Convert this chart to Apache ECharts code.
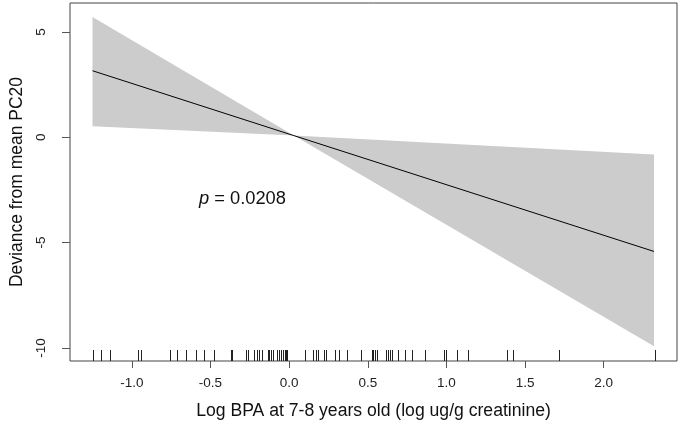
<!DOCTYPE html>
<html><head><meta charset="utf-8">
<script src="https://cdn.jsdelivr.net/npm/echarts@6/dist/echarts.min.js"></script>
<style>html,body{margin:0;padding:0;background:#fff}#c{width:682px;height:428px}</style>
</head><body><div id="c"></div>
<script>
// Fitted line
const fitX = [-1.25, 0.03, 2.32];
const fitY = [3.16, 0.08, -5.42];
// Confidence band (upper / lower) at the same x values
const bandX = [-1.25, 0.03, 2.32];
const bandUpper = [5.71, 0.08, -0.82];
const bandLower = [0.53, 0.08, -9.92];
// Rug: observed Log BPA values
const rugX = [-1.246,-1.197,-1.139,-0.962,-0.939,-0.760,-0.710,-0.655,-0.592,-0.542,-0.479,
  -0.372,-0.363,-0.277,-0.261,-0.221,-0.206,-0.189,-0.174,-0.137,-0.126,-0.116,-0.105,
  -0.080,-0.067,-0.053,-0.042,-0.028,-0.021,-0.015,0.098,0.149,0.168,0.183,0.224,0.235,
  0.294,0.315,0.367,0.460,0.525,0.536,0.546,0.556,0.613,0.626,0.643,0.655,0.693,0.735,
  0.783,0.865,0.983,0.999,1.065,1.140,1.388,1.426,1.714,2.325];
// Axis ticks
const xTicks = [-1.0, -0.5, 0.0, 0.5, 1.0, 1.5, 2.0];
const yTicks = [-10, -5, 0, 5];
const xRange = [-1.393, 2.466];
const yRange = [-10.62, 6.375];

const chart = echarts.init(document.getElementById('c'), null, {renderer: 'canvas'});
const font = '"Liberation Sans", Arial, sans-serif';
const bandPoly = bandX.map((x, i) => [x, bandUpper[i]]).concat(
  bandX.map((x, i) => [x, bandLower[i]]).reverse());

chart.setOption({
  animation: false,
  grid: {left: 67, right: 5, top: 3, bottom: 67, show: true, borderColor: '#444', borderWidth: 1, backgroundColor: 'transparent'},
  xAxis: {
    type: 'value', min: xRange[0], max: xRange[1],
    splitLine: {show: false}, axisLine: {show: false, onZero: false},
    axisTick: {show: true, length: 7, lineStyle: {color: '#555'}, customValues: xTicks},
    axisLabel: {color: '#222', fontSize: 13.5, fontFamily: font, margin: 15, customValues: xTicks,
      formatter: v => v.toFixed(1)},
    name: 'Log BPA at 7-8 years old (log ug/g creatinine)', nameLocation: 'middle', nameGap: 41,
    nameTextStyle: {color: '#111', fontSize: 17.6, fontFamily: font}
  },
  yAxis: {
    type: 'value', min: yRange[0], max: yRange[1],
    splitLine: {show: false}, axisLine: {show: false, onZero: false},
    axisTick: {show: true, length: 8, lineStyle: {color: '#555'}, customValues: yTicks},
    axisLabel: {color: '#222', fontSize: 13.5, fontFamily: font, rotate: 90, margin: 29, customValues: yTicks,
      verticalAlign: 'middle', align: 'center'},
    name: 'Deviance from mean PC20', nameLocation: 'middle', nameGap: 44,
    nameTextStyle: {color: '#111', fontSize: 17.5, fontFamily: font}
  },
  series: [
    {
      type: 'custom', silent: true, z: 1,
      data: [0],
      renderItem: (params, api) => ({
        type: 'polygon',
        shape: {points: bandPoly.map(p => api.coord(p))},
        style: {fill: '#cccccc', stroke: null}
      })
    },
    {
      type: 'line', data: fitX.map((x, i) => [x, fitY[i]]), symbol: 'none', z: 3,
      lineStyle: {color: '#000', width: 1}
    },
    {
      type: 'custom', silent: true, z: 4,
      data: rugX.map(x => [x]),
      renderItem: (params, api) => {
        const p = api.coord([api.value(0), yRange[0]]);
        const x = Math.round(p[0]) + 0.5;
        return {type: 'line', shape: {x1: x, y1: p[1], x2: x, y2: p[1] - 11},
          style: {stroke: '#222', lineWidth: 1}};
      }
    }
  ],
  graphic: [{
    type: 'text', left: 199, top: 190,
    style: {
      text: '{i|p} = 0.0208',
      rich: {i: {fontStyle: 'italic', fontSize: 18.3, fontFamily: font, fill: '#111'}},
      fontSize: 18.3, fontFamily: font, fill: '#111'
    }
  }]
});
</script></body></html>
